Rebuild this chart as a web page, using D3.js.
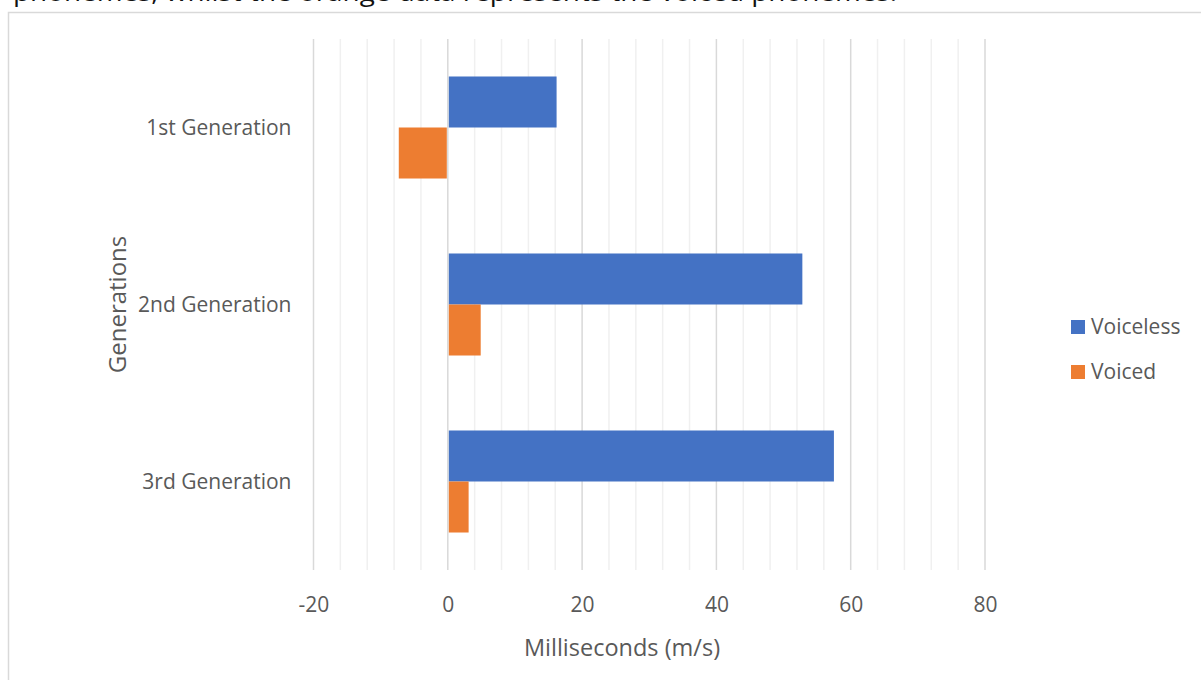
<!DOCTYPE html>
<html>
<head>
<meta charset="utf-8">
<script src="https://cdn.jsdelivr.net/npm/d3@7"></script>
<style>
  html, body { margin: 0; padding: 0; background: #fff; overflow: hidden; }
  svg { display: block; }
  text { font-family: "Open Sans", "Noto Sans", sans-serif; }
</style>
</head>
<body>
<svg id="chart" width="1201" height="680"></svg>
<script>
// Data
const generations = ["1st Generation", "2nd Generation", "3rd Generation"];
const seriesNames = ["Voiceless", "Voiced"];
const voiceless = [16.2, 52.8, 57.5];
const voiced = [-7.3, 4.9, 3.1];
const xTicks = [-20, 0, 20, 40, 60, 80];
const colors = ["#4472C4", "#ED7D31"];

const svg = d3.select("#chart");
const W = 1201, H = 680;

// Caption line above the chart frame (runs off the top edge)
svg.append("text")
  .attr("x", 13).attr("y", 1)
  .attr("font-size", 25)
  .attr("fill", "#111")
  .attr("textLength", 884)
  .attr("lengthAdjust", "spacingAndGlyphs")
  .text("phonemes, whilst the orange data represents the voiced phonemes.");

// Chart frame
svg.append("rect")
  .attr("x", 8.5).attr("y", 12.5)
  .attr("width", W + 20).attr("height", H + 20)
  .attr("fill", "none")
  .attr("stroke", "#d9d9d9")
  .attr("stroke-width", 1.5);

const plot = { left: 313.5, right: 985, top: 39, bottom: 570 };

const x = d3.scaleLinear().domain([-20, 80]).range([plot.left, plot.right]);
const y = d3.scaleBand().domain(generations).range([plot.top, plot.bottom]);
const inner = d3.scaleBand().domain(seriesNames)
  .range([0, y.bandwidth()]).paddingInner(0).paddingOuter(0.735);

// Minor gridlines every 4 units
const minor = d3.range(-20, 80.001, 4).filter(v => v % 20 !== 0);
svg.append("g").selectAll("line").data(minor).join("line")
  .attr("x1", d => x(d)).attr("x2", d => x(d))
  .attr("y1", plot.top).attr("y2", plot.bottom)
  .attr("stroke", "#f0f0f0").attr("stroke-width", 1.5);

// Major gridlines
svg.append("g").selectAll("line").data(xTicks).join("line")
  .attr("x1", d => x(d)).attr("x2", d => x(d))
  .attr("y1", plot.top).attr("y2", plot.bottom)
  .attr("stroke", "#d9d9d9").attr("stroke-width", 1.5);

// Bars
const rows = generations.map((g, i) => ({ g, vals: [voiceless[i], voiced[i]] }));
const groups = svg.append("g").selectAll("g").data(rows).join("g")
  .attr("transform", d => `translate(0,${y(d.g)})`);
groups.selectAll("rect")
  .data(d => d.vals.map((v, j) => ({ v, s: seriesNames[j], c: colors[j] })))
  .join("rect")
  .attr("x", d => x(Math.min(0, d.v)) + (d.v >= 0 ? 1 : 0))
  .attr("width", d => Math.abs(x(d.v) - x(0)) - 1)
  .attr("y", d => inner(d.s))
  .attr("height", inner.bandwidth())
  .attr("fill", d => d.c);

// X axis tick labels (plain hyphen for negatives)
const xAxis = d3.axisBottom(x).tickValues(xTicks).tickSize(0).tickPadding(0)
  .tickFormat(d => String(d));
const gx = svg.append("g").attr("transform", `translate(0,${plot.bottom + 42})`).call(xAxis);
gx.select(".domain").remove();
gx.selectAll("text")
  .attr("dy", 0)
  .attr("font-family", "'Open Sans', sans-serif")
  .attr("font-size", 21)
  .attr("fill", "#595959");

// Y axis category labels
const yAxis = d3.axisLeft(y).tickSize(0).tickPadding(0);
const gy = svg.append("g").attr("transform", `translate(${plot.left - 22},0)`).call(yAxis);
gy.select(".domain").remove();
gy.selectAll("text")
  .attr("dy", "0.35em")
  .attr("font-family", "'Open Sans', sans-serif")
  .attr("font-size", 21)
  .attr("fill", "#595959");

// Axis titles
svg.append("text")
  .attr("x", 622).attr("y", 656)
  .attr("text-anchor", "middle")
  .attr("font-size", 23.5)
  .attr("fill", "#595959")
  .text("Milliseconds (m/s)");

svg.append("text")
  .attr("transform", `translate(126,${(plot.top + plot.bottom) / 2}) rotate(-90)`)
  .attr("text-anchor", "middle")
  .attr("font-size", 24)
  .attr("fill", "#595959")
  .text("Generations");

// Legend
const legend = svg.append("g").selectAll("g").data(seriesNames).join("g")
  .attr("transform", (d, i) => `translate(1071,${327 + i * 45})`);
legend.append("rect")
  .attr("x", 0).attr("y", -7).attr("width", 14).attr("height", 14)
  .attr("fill", (d, i) => colors[i]);
legend.append("text")
  .attr("x", 20).attr("y", 0).attr("dy", "0.35em")
  .attr("font-size", 21)
  .attr("fill", "#595959")
  .text(d => d);
</script>
</body>
</html>
